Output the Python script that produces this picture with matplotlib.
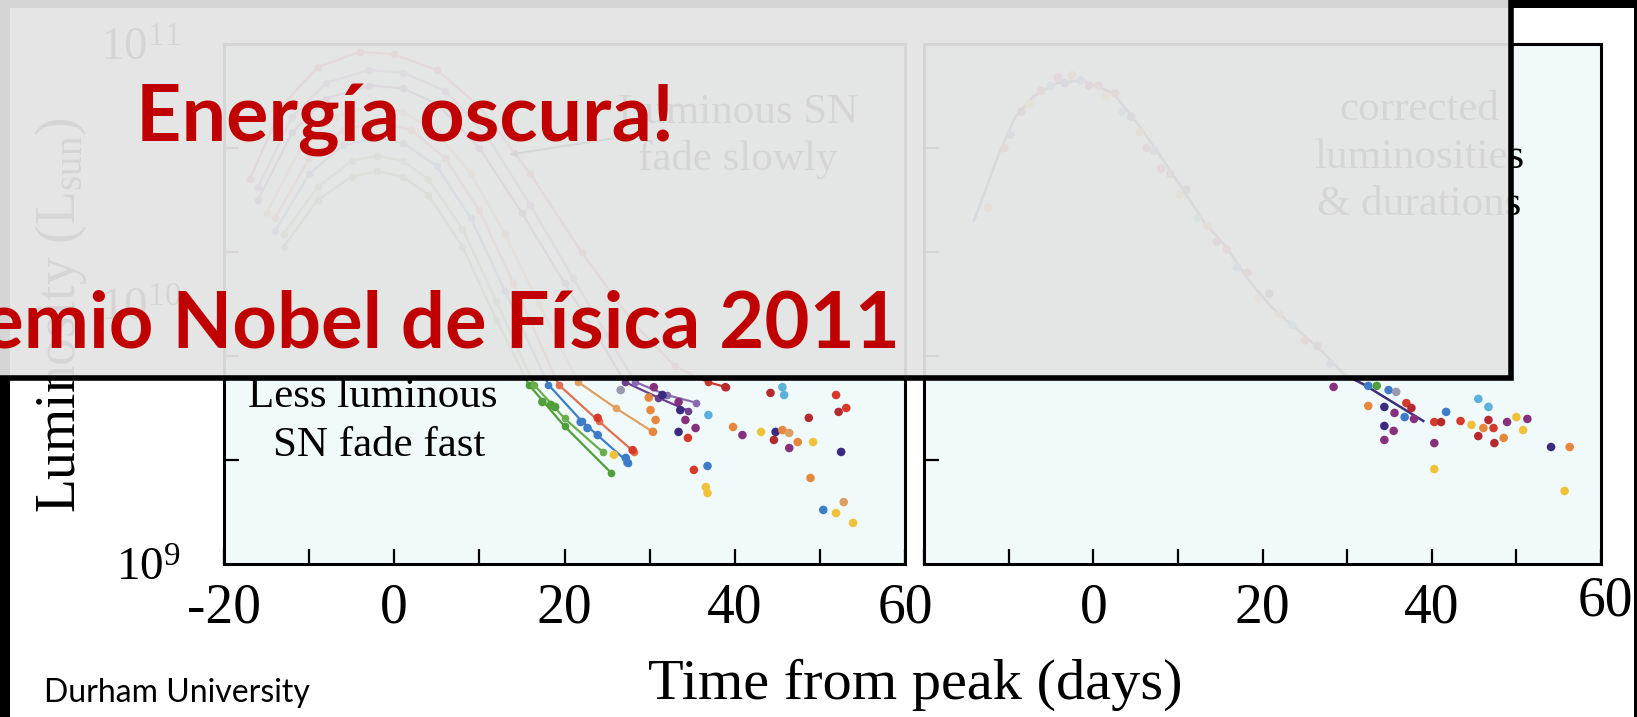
import numpy as np
import matplotlib
matplotlib.use('Agg')
import matplotlib.pyplot as plt
from matplotlib.patches import Rectangle
from matplotlib.ticker import FixedLocator, NullFormatter

plt.rcParams['font.family'] = ['Liberation Serif', 'DejaVu Serif']
plt.rcParams['mathtext.fontset'] = 'custom'
plt.rcParams['mathtext.rm'] = 'Liberation Serif'
plt.rcParams['mathtext.it'] = 'Liberation Serif:italic'

W, H = 1637, 717

# ---- left panel: light curves (days from peak, log10 L/Lsun) ----
curve_days = [
    [-13, -9, -5, -2, 1, 4, 8, 12, 15.8, 20, 25.5],
    [-13, -9, -5, -2, 1, 4, 8, 12, 16.4, 20, 24.5],
    [-14, -10, -6, -2, 1, 5, 9, 13, 18.1, 22, 27.5],
    [-14, -10, -6, -2, 2, 6, 10, 14, 19.3, 24, 28.2],
    [-15, -11, -7, -3, 1, 5, 9, 13, 17, 21.6, 26, 30.3],
    [-16, -12, -8, -3, 1, 5, 10, 15, 20, 24, 27.1, 31, 34.5],
    [-16, -12, -8, -3, 1, 6, 11, 16, 21, 25, 28.3, 32, 35.5],
    [-17, -13, -9, -4, 0, 5, 10, 16, 22, 28, 33, 36.8, 39],
]
curve_lum = [
    [10.22, 10.40, 10.49, 10.51, 10.49, 10.42, 10.22, 9.94, 9.69, 9.53, 9.35],
    [10.27, 10.45, 10.55, 10.57, 10.55, 10.48, 10.29, 10.01, 9.69, 9.56, 9.43],
    [10.28, 10.50, 10.61, 10.64, 10.62, 10.53, 10.33, 10.05, 9.69, 9.55, 9.39],
    [10.33, 10.56, 10.67, 10.70, 10.67, 10.56, 10.36, 10.08, 9.69, 9.55, 9.43],
    [10.35, 10.60, 10.72, 10.76, 10.74, 10.66, 10.50, 10.27, 10.00, 9.70, 9.60, 9.51],
    [10.40, 10.66, 10.79, 10.84, 10.83, 10.77, 10.60, 10.35, 10.08, 9.87, 9.70, 9.64, 9.59],
    [10.45, 10.72, 10.85, 10.90, 10.89, 10.82, 10.64, 10.38, 10.10, 9.88, 9.70, 9.65, 9.62],
    [10.48, 10.77, 10.91, 10.97, 10.96, 10.90, 10.76, 10.50, 10.20, 9.93, 9.76, 9.70, 9.68],
]
curve_colors = ['#4f9e3a', '#6aae4c', '#3f7fc6', '#e0704f', '#dfa062',
                '#6b3f8f', '#8a6bb0', '#c8372b']

# late-time points, left panel
left_days = [17.4, 18.4, 18.9, 21.9, 22.7, 23.9, 27.2, 27.4, 23.9, 28.0,
             25.8, 30.1, 30.7, 30.4, 29.9, 30.5, 31.5, 33.4, 33.6, 26.6,
             38.9, 36.9, 34.2, 33.4, 35.4, 34.5, 35.2, 36.8, 36.8, 36.6,
             39.8, 40.9, 43.1, 44.8, 44.6, 45.6, 46.4, 46.4, 47.4, 49.2,
             44.2, 45.8, 45.6, 48.7, 51.9, 52.2, 53.1, 52.5, 48.9, 50.4,
             51.9, 52.8, 53.9]
left_lum = [9.623, 9.612, 9.604, 9.546, 9.523, 9.496, 9.408, 9.390, 9.562, 9.438,
            9.420, 9.592, 9.554, 9.508, 9.640, 9.680, 9.650, 9.623, 9.592, 9.669,
            9.680, 9.573, 9.554, 9.508, 9.523, 9.485, 9.362, 9.377, 9.273, 9.296,
            9.527, 9.496, 9.508, 9.508, 9.477, 9.515, 9.504, 9.446, 9.469, 9.469,
            9.658, 9.650, 9.680, 9.562, 9.650, 9.585, 9.600, 9.431, 9.331, 9.208,
            9.196, 9.238, 9.158]
left_sn = [8, 8, 8, 4, 4, 4, 4, 4, 0, 0,
           3, 2, 2, 2, 2, 6, 7, 6, 7, 9,
           1, 5, 6, 7, 6, 0, 0, 4, 3, 3,
           2, 6, 3, 7, 1, 2, 10, 6, 2, 3,
           1, 5, 5, 1, 0, 1, 0, 7, 2, 4,
           3, 10, 3]

# ---- right panel: corrected light curve ----
corr_days = [-14.1, -11, -9.2, -7, -4.3, -1.2, 2.4, 5.1, 7.7, 10.4,
             13, 15.7, 18.4, 21, 24.2, 27.3, 29.6, 32, 39]
corr_lum = [10.32, 10.59, 10.72, 10.80, 10.85, 10.86, 10.81, 10.70, 10.58, 10.45,
            10.32, 10.22, 10.09, 9.99, 9.90, 9.81, 9.73, 9.69, 9.55]

right_days = [-12.4, -10.5, -9.8, -8.5, -7.5, -6.2, -5.0, -4.2, -3.4, -2.5,
              -1.5, -0.5, 0.6, 1.5, 2.6, 3.4, 4.5, 5.5, 6.3, 7.2,
              8.0, 9.1, 10.2, 11.0, 12.3, 13.5, 14.6, 15.8, 17.0, 18.2,
              19.5, 20.8, 22.0, 23.5, 25.0, 26.5, 28.0,
              28.4, 32.5, 33.5, 34.9, 35.8, 32.5, 34.4, 35.6, 37.0, 37.6,
              36.8, 37.9, 34.4, 35.5, 34.4, 40.3, 41.1, 41.7, 43.4, 44.7,
              45.5, 46.7, 46.7, 46.1, 45.5, 47.3, 47.4, 48.5, 48.9, 50.0,
              50.8, 51.3, 40.3, 40.3, 54.1, 56.3, 55.7]
right_lum = [10.37, 10.60, 10.65, 10.74, 10.77, 10.82, 10.84, 10.87, 10.85, 10.88,
             10.86, 10.84, 10.84, 10.80, 10.81, 10.74, 10.72, 10.66, 10.60, 10.59,
             10.52, 10.50, 10.42, 10.44, 10.33, 10.30, 10.24, 10.21, 10.14, 10.12,
             10.02, 10.04, 9.96, 9.92, 9.86, 9.84, 9.77,
             9.681, 9.685, 9.685, 9.669, 9.662, 9.608, 9.604, 9.581, 9.619, 9.600,
             9.565, 9.558, 9.531, 9.512, 9.477, 9.546, 9.546, 9.585, 9.550, 9.535,
             9.635, 9.604, 9.554, 9.523, 9.492, 9.523, 9.465, 9.485, 9.546, 9.565,
             9.515, 9.558, 9.465, 9.365, 9.450, 9.450, 9.281]
right_sn = [2, 0, 4, 6, 3, 1, 5, 0, 7, 2,
            4, 6, 0, 3, 1, 5, 7, 2, 6, 4,
            0, 1, 3, 7, 5, 2, 6, 0, 4, 1,
            3, 7, 2, 5, 0, 6, 4,
            6, 4, 8, 4, 9, 2, 7, 6, 0, 1,
            4, 6, 7, 6, 6, 0, 1, 4, 0, 3,
            5, 5, 1, 2, 1, 0, 1, 2, 6, 3,
            3, 6, 6, 3, 7, 2, 3]

PALETTE = ['#d63a2a', '#b52a2e', '#e7873c', '#f0c23a', '#3c7cc8', '#5bb0dc',
           '#86307e', '#3a2a80', '#4f9e3a', '#9a9aae', '#dea060']

x_ticks = [-20, 0, 20, 40, 60]
x_minor = [-10, 10, 30, 50]
y_decades = [1e9, 1e10, 1e11]
y_decade_labels = ['$10^{9}$', '$10^{10}$', '$10^{11}$']
y_mag_ticks = [10 ** 9.4, 10 ** 9.8, 10 ** 10.2, 10 ** 10.6]

fig = plt.figure(figsize=(W / 100, H / 100), dpi=100)
fig.patch.set_facecolor('white')

bottom = (H - 564) / H
height = (564 - 44) / H
ax1 = fig.add_axes([224 / W, bottom, (905 - 224) / W, height])
ax2 = fig.add_axes([924 / W, bottom, (1601 - 924) / W, height])


def style_axes(ax):
    ax.set_facecolor('#f1fafb')
    ax.set_yscale('log')
    ax.set_xlim(-20, 60)
    ax.set_ylim(1e9, 1e11)
    for sp in ax.spines.values():
        sp.set_linewidth(2.2)
    ax.set_yticks(y_decades)
    ax.yaxis.set_minor_locator(FixedLocator(y_mag_ticks))
    ax.yaxis.set_minor_formatter(NullFormatter())
    ax.xaxis.set_minor_locator(FixedLocator(x_minor))
    ax.tick_params(axis='x', which='both', direction='in', length=11, width=1.6,
                   top=False, labelsize=40, pad=13)
    ax.tick_params(axis='y', which='major', length=0, labelsize=34, pad=31)
    ax.tick_params(axis='y', which='minor', direction='in', length=11, width=1.6,
                   right=False)


style_axes(ax1)
style_axes(ax2)

ax1.set_xticks(x_ticks)
ax1.set_xticklabels([str(v) for v in x_ticks])
ax1.set_yticklabels(y_decade_labels)

ax2.set_xticks(x_ticks)
ax2.set_xticklabels(['', '0', '20', '40', ''])
ax2.set_yticklabels(['', '', ''])
ax2.annotate('60', xy=(60, 0), xycoords=('data', 'axes fraction'),
             xytext=(3, -8), textcoords='offset points',
             ha='center', va='top', fontsize=40, annotation_clip=False)

# left panel curves and points
for d, l, c in zip(curve_days, curve_lum, curve_colors):
    ax1.plot(d, 10 ** np.array(l), '-o', color=c, lw=1.6, ms=4.5, zorder=3)
ax1.scatter(left_days, 10 ** np.array(left_lum),
            c=[PALETTE[i] for i in left_sn], s=38, edgecolors='none', zorder=4)

# right panel
ax2.plot(corr_days, 10 ** np.array(corr_lum), color='#3d2f7a', lw=1.8, zorder=3)
ax2.scatter(right_days, 10 ** np.array(right_lum),
            c=[PALETTE[i] for i in right_sn], s=38, edgecolors='none', zorder=4)

# annotations
txt = dict(fontsize=31, ha='center', va='baseline')
ax1.text(-2.5, 10 ** 9.604, 'Less luminous', **txt)
ax1.text(-1.8, 10 ** 9.415, 'SN fade fast', **txt)
ax1.text(40.4, 10 ** 10.696, 'Luminous SN', **txt)
ax1.text(40.4, 10 ** 10.515, 'fade slowly', **txt)
ax1.annotate('', xy=(13.2, 10 ** 10.573), xytext=(25.9, 10 ** 10.638),
             arrowprops=dict(arrowstyle='->', lw=1.4, color='black'))
ax2.text(38.5, 10 ** 10.708, 'corrected', **txt)
ax2.text(38.5, 10 ** 10.523, 'luminosities', **txt)
ax2.text(38.5, 10 ** 10.342, '& durations', **txt)

fig.text(61 / W, 1 - 315 / H, r'Luminosity (L$_{\mathrm{sun}}$)', rotation=90,
         ha='center', va='center', fontsize=40)
fig.text(915 / W, 1 - 699 / H, 'Time from peak (days)', ha='center',
         va='baseline', fontsize=42)

# black frame of the pasted picture
for (x0, y0, w, h) in [(0, 0, 10, H), (0, 0, W, 8), (W - 3, 0, 3, H)]:
    fig.add_artist(Rectangle((x0 / W, 1 - (y0 + h) / H), w / W, h / H,
                             transform=fig.transFigure, facecolor='black',
                             edgecolor='none', zorder=2))

# grey overlay box with the slide titles
fig.add_artist(Rectangle((-20 / W, 1 - 378 / H), (1511 + 20) / W, (378 + 20) / H,
                         transform=fig.transFigure,
                         facecolor=(0.894, 0.894, 0.894, 0.94),
                         edgecolor='black', lw=4, zorder=10))

red = '#c00000'
fig.text(405 / W, 1 - 141 / H, 'Energía oscura!', ha='center', va='baseline',
         fontsize=57, fontweight='bold', family=['Lato', 'DejaVu Sans'],
         color=red, zorder=11)
fig.text(900 / W, 1 - 348 / H, 'Premio Nobel de Física 2011', ha='right',
         va='baseline', fontsize=56, fontweight='bold',
         family=['Lato', 'DejaVu Sans'], color=red, zorder=11)

fig.text(44 / W, 1 - 702 / H, 'Durham University', ha='left', va='baseline',
         fontsize=23, family=['Lato', 'DejaVu Sans'], color='black')

fig.savefig('out.png', dpi=100)
